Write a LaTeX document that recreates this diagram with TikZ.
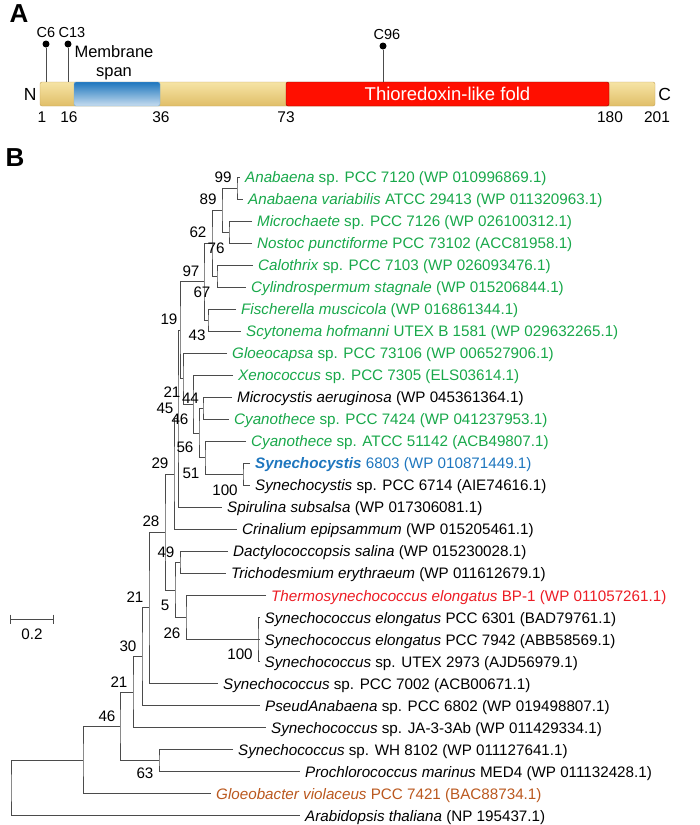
\documentclass[tikz,border=0pt]{standalone}
\usepackage{fontspec}
\setmainfont{Liberation Sans}
\usepackage{xcolor}
\usepackage{tikz}
\usetikzlibrary{positioning}
\definecolor{cgreen}{RGB}{24,168,74}
\definecolor{cblue}{RGB}{30,118,190}
\definecolor{cred}{RGB}{236,28,36}
\definecolor{cbrown}{RGB}{186,88,30}
\definecolor{treegray}{RGB}{75,75,75}
\definecolor{bartop}{RGB}{246,228,165}
\definecolor{barbot}{RGB}{224,190,104}
\definecolor{barline}{RGB}{196,162,88}
\tikzstyle{branch} = [draw=treegray, line width=0.9pt]
\tikzstyle{leaf} = [anchor=west, inner xsep=5pt, inner ysep=0pt, text height=10.8pt, text depth=0pt, font=\fontsize{15.2}{18}\selectfont]
\tikzstyle{boot} = [inner sep=0pt, text height=10.8pt, text depth=0pt, font=\fontsize{15.2}{18}\selectfont]
\tikzstyle{panel} = [inner sep=0pt, font=\fontsize{26}{26}\selectfont\bfseries]
\tikzstyle{protbar} = [rectangle, rounded corners=2pt, draw=barline, top color=bartop, bottom color=barbot, inner sep=0pt, minimum height=24pt]
\tikzstyle{tmspan} = [rectangle, rounded corners=2pt, draw=cblue!60, top color=cblue, bottom color=cblue!25, inner sep=0pt, minimum height=24pt]
\tikzstyle{trxfold} = [rectangle, rounded corners=2pt, draw=red!55!black, fill=red!88!orange, text=white, inner sep=0pt, minimum height=24pt, font=\fontsize{18.5}{20}\selectfont]
\tikzstyle{pinhead} = [circle, fill=black, inner sep=0pt, minimum size=7pt]
\tikzstyle{pinline} = [draw=black!70, line width=0.6pt]
\tikzstyle{cyslab} = [inner sep=0pt, font=\fontsize{14.5}{16}\selectfont]
\tikzstyle{resnum} = [inner sep=0pt, font=\fontsize{15.5}{18}\selectfont]
\tikzstyle{termlab} = [inner sep=0pt, font=\fontsize{17.5}{20}\selectfont]

\begin{document}
\begin{tikzpicture}[x=1pt, y=-1pt]
\useasboundingbox (0,0) rectangle (700,825);

\node (pa) [panel] at (19,14) {A};
\node (bar) [protbar, minimum width=615pt] at (347.5,94) {};
\node (tm) [tmspan, minimum width=86pt] at (117,94) {};
\node (trx) [trxfold, minimum width=323pt] at (447.5,94) {Thioredoxin-like fold};
\node (nterm) [termlab, left=3pt of bar] {N};
\node (cterm) [termlab, right=3pt of bar] {C};
\node (mspan) [cyslab, align=center, font=\fontsize{16.5}{19}\selectfont] at (114,62.5) {Membrane\\span};

\node (c6dot) [pinhead] at (46,44) {};
\node (c13dot) [pinhead] at (68,44) {};
\node (c96dot) [pinhead] at (383,46) {};
\draw [pinline] (c6dot) -- (c6dot |- bar.north);
\draw [pinline] (c13dot) -- (c13dot |- bar.north);
\draw [pinline] (c96dot) -- (c96dot |- bar.north);
\node (c6lab) [cyslab, above=2pt of c6dot] {C6};
\node (c13lab) [cyslab, above=2pt of c13dot, xshift=4pt] {C13};
\node (c96lab) [cyslab, above=2pt of c96dot, xshift=4pt] {C96};

\node (r1) [resnum] at (42,117) {1};
\node (r16) [resnum] at (69,117) {16};
\node (r36) [resnum] at (161,117) {36};
\node (r73) [resnum] at (286,117) {73};
\node (r180) [resnum] at (610,117) {180};
\node (r201) [resnum] at (657,117) {201};

\node (pb) [panel] at (15,158) {B};

\node (anab1) [leaf, text=cgreen] at (240,177.0) {\textit{Anabaena} sp. PCC 7120 (WP 010996869.1)};
\node (anab2) [leaf, text=cgreen] at (243,199.0) {\textit{Anabaena variabilis} ATCC 29413 (WP 011320963.1)};
\node (micro) [leaf, text=cgreen] at (252,221.1) {\textit{Microchaete} sp. PCC 7126 (WP 026100312.1)};
\node (nostoc) [leaf, text=cgreen] at (252,243.1) {\textit{Nostoc punctiforme} PCC 73102 (ACC81958.1)};
\node (calo) [leaf, text=cgreen] at (253,265.1) {\textit{Calothrix} sp. PCC 7103 (WP 026093476.1)};
\node (cylin) [leaf, text=cgreen] at (246,287.2) {\textit{Cylindrospermum stagnale} (WP 015206844.1)};
\node (fisch) [leaf, text=cgreen] at (236,309.2) {\textit{Fischerella muscicola} (WP 016861344.1)};
\node (scyto) [leaf, text=cgreen] at (241,331.2) {\textit{Scytonema hofmanni} UTEX B 1581 (WP 029632265.1)};
\node (gloeo) [leaf, text=cgreen] at (227,353.2) {\textit{Gloeocapsa} sp. PCC 73106 (WP 006527906.1)};
\node (xeno) [leaf, text=cgreen] at (233,375.3) {\textit{Xenococcus} sp. PCC 7305 (ELS03614.1)};
\node (mcyst) [leaf] at (232,397.3) {\textit{Microcystis aeruginosa} (WP 045361364.1)};
\node (cyan1) [leaf, text=cgreen] at (229,419.3) {\textit{Cyanothece} sp. PCC 7424 (WP 041237953.1)};
\node (cyan2) [leaf, text=cgreen] at (246,441.4) {\textit{Cyanothece} sp. ATCC 51142 (ACB49807.1)};
\node (syn1) [leaf, text=cblue] at (250,463.4) {\textbf{\textit{Synechocystis}} 6803 (WP 010871449.1)};
\node (syn2) [leaf] at (250,485.4) {\textit{Synechocystis} sp. PCC 6714 (AIE74616.1)};
\node (spir) [leaf] at (222,507.5) {\textit{Spirulina subsalsa} (WP 017306081.1)};
\node (crin) [leaf] at (237,529.5) {\textit{Crinalium epipsammum} (WP 015205461.1)};
\node (dact) [leaf] at (228,551.5) {\textit{Dactylococcopsis salina} (WP 015230028.1)};
\node (trich) [leaf] at (226,573.5) {\textit{Trichodesmium erythraeum} (WP 011612679.1)};
\node (therm) [leaf, text=cred] at (266,595.6) {\textit{Thermosynechococcus elongatus} BP-1 (WP 011057261.1)};
\node (sel1) [leaf] at (259.5,617.6) {\textit{Synechococcus elongatus} PCC 6301 (BAD79761.1)};
\node (sel2) [leaf] at (259.5,639.6) {\textit{Synechococcus elongatus} PCC 7942 (ABB58569.1)};
\node (sutex) [leaf] at (259.5,661.7) {\textit{Synechococcus} sp. UTEX 2973 (AJD56979.1)};
\node (s7002) [leaf] at (218,683.7) {\textit{Synechococcus} sp. PCC 7002 (ACB00671.1)};
\node (pseud) [leaf] at (260,705.7) {\textit{PseudAnabaena} sp. PCC 6802 (WP 019498807.1)};
\node (sja) [leaf] at (266,727.8) {\textit{Synechococcus} sp. JA-3-3Ab (WP 011429334.1)};
\node (swh) [leaf] at (233,749.8) {\textit{Synechococcus} sp. WH 8102 (WP 011127641.1)};
\node (proch) [leaf] at (300,771.8) {\textit{Prochlorococcus marinus} MED4 (WP 011132428.1)};
\node (gbact) [leaf, text=cbrown] at (211,793.8) {\textit{Gloeobacter violaceus} PCC 7421 (BAC88734.1)};
\node (arab) [leaf] at (300,815.9) {\textit{Arabidopsis thaliana} (NP 195437.1)};

\coordinate (n99) at (237,188);
\coordinate (nmn) at (229,232.1);
\coordinate (n89) at (222,210.05);
\coordinate (ncc) at (217,276.15);
\coordinate (n62) at (212,243.1);
\coordinate (nfs) at (208,320.2);
\coordinate (n97) at (204,281.65);
\coordinate (nmi) at (203,408.3);
\coordinate (nsy) at (243,474.4);
\coordinate (ncs) at (205,457.9);
\coordinate (nmc) at (199,433.1);
\coordinate (nxe) at (193,404.2);
\coordinate (ngl) at (183,378.7);
\coordinate (n19) at (180,330.2);
\coordinate (nx) at (178,418.85);
\coordinate (n174) at (174,474.2);
\coordinate (ndt) at (180,562.5);
\coordinate (nst) at (258,639.6);
\coordinate (nts) at (186,617.6);
\coordinate (n175) at (175,590.05);
\coordinate (n165) at (165,532.1);
\coordinate (n149) at (149,607.9);
\coordinate (n142) at (142,656.8);
\coordinate (n133) at (133,692.3);
\coordinate (nwp) at (159,760.8);
\coordinate (n120) at (120,726.55);
\coordinate (n83) at (83,760.2);
\coordinate (root) at (11,788.05);

\draw [branch] (anab1.west) -| (n99) |- (anab2.west);
\draw [branch] (micro.west) -| (nmn) |- (nostoc.west);
\draw [branch] (n99) -| (n89) |- (nmn);
\draw [branch] (calo.west) -| (ncc) |- (cylin.west);
\draw [branch] (n89) -| (n62) |- (ncc);
\draw [branch] (fisch.west) -| (nfs) |- (scyto.west);
\draw [branch] (n62) -| (n97) |- (nfs);
\draw [branch] (mcyst.west) -| (nmi) |- (cyan1.west);
\draw [branch] (syn1.west) -| (nsy) |- (syn2.west);
\draw [branch] (cyan2.west) -| (ncs) |- (nsy);
\draw [branch] (nmi) -| (nmc) |- (ncs);
\draw [branch] (xeno.west) -| (nxe) |- (nmc);
\draw [branch] (gloeo.west) -| (ngl) |- (nxe);
\draw [branch] (n97) -| (n19) |- (ngl);
\draw [branch] (n19) -| (nx) |- (spir.west);
\draw [branch] (nx) -| (n174) |- (crin.west);
\draw [branch] (dact.west) -| (ndt) |- (trich.west);
\draw [branch] (sel1.west) -| (nst) |- (sutex.west);
\draw [branch] (nst) -- (sel2.west);
\draw [branch] (therm.west) -| (nts) |- (nst);
\draw [branch] (ndt) -| (n175) |- (nts);
\draw [branch] (n174) -| (n165) |- (n175);
\draw [branch] (n165) -| (n149) |- (s7002.west);
\draw [branch] (n149) -| (n142) |- (pseud.west);
\draw [branch] (n142) -| (n133) |- (sja.west);
\draw [branch] (swh.west) -| (nwp) |- (proch.west);
\draw [branch] (n133) -| (n120) |- (nwp);
\draw [branch] (n120) -| (n83) |- (gbact.west);
\draw [branch] (n83) -| (root) |- (arab.west);

\node (b99) [boot] at (223,177) {99};
\node (b89) [boot] at (208,199) {89};
\node (b62) [boot] at (198,232) {62};
\node (b76) [boot] at (216,248) {76};
\node (b97) [boot] at (191,271) {97};
\node (b67) [boot] at (202,292) {67};
\node (b19) [boot] at (169,319) {19};
\node (b43) [boot] at (197,335) {43};
\node (b21a) [boot] at (172,392) {21};
\node (b44) [boot] at (190.5,398) {44};
\node (b45) [boot] at (165,408) {45};
\node (b46a) [boot] at (180,419) {46};
\node (b56) [boot] at (185,447) {56};
\node (b29) [boot] at (160,463) {29};
\node (b51) [boot] at (191,473) {51};
\node (b100a) [boot] at (225,490) {100};
\node (b28) [boot] at (151,521) {28};
\node (b49) [boot] at (166,552) {49};
\node (b21b) [boot] at (135,597) {21};
\node (b5) [boot] at (165,605) {5};
\node (b26) [boot] at (172,633) {26};
\node (b30) [boot] at (128,646.5) {30};
\node (b100b) [boot] at (240,654) {100};
\node (b21c) [boot] at (119,682) {21};
\node (b46b) [boot] at (107,716) {46};
\node (b63) [boot] at (145,773) {63};

\coordinate (sbl) at (10,619);
\coordinate (sbr) at (53,619);
\draw [branch] (sbl) -- (sbr);
\draw [branch] ([yshift=4.5pt]sbl) -- ([yshift=-4.5pt]sbl);
\draw [branch] ([yshift=4.5pt]sbr) -- ([yshift=-4.5pt]sbr);
\node (sblab) [boot] at (32,634) {0.2};
\end{tikzpicture}
\end{document}
